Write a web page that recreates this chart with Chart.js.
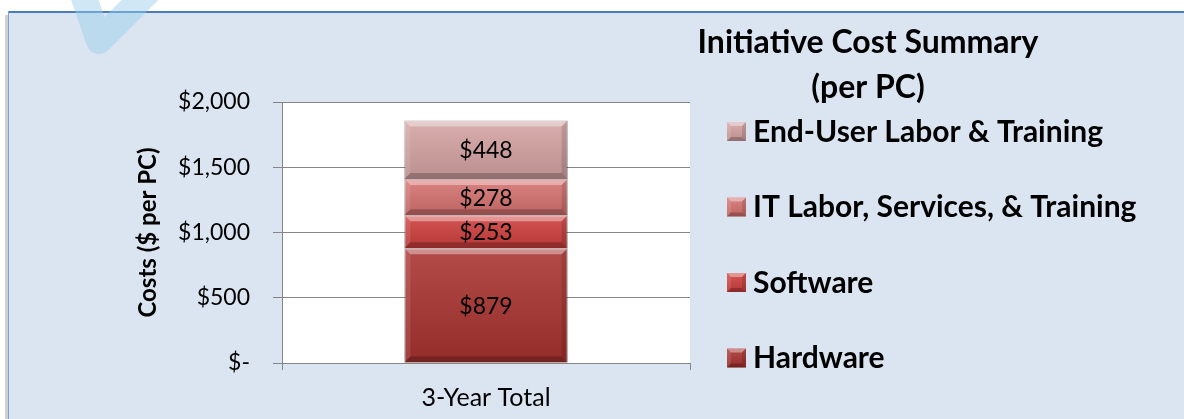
<!DOCTYPE html>
<html>
<head>
<meta charset="utf-8">
<title>Initiative Cost Summary</title>
<script src="https://cdn.jsdelivr.net/npm/chart.js@4.4.1/dist/chart.umd.min.js"></script>
<style>
  html, body { margin: 0; padding: 0; background: #fff; }
  canvas { display: block; }
</style>
</head>
<body>
<canvas id="costChart" width="1184" height="419"></canvas>
<script>
// data
const categories = ['3-Year Total'];
const seriesNames = ['Hardware', 'Software', 'IT Labor, Services, & Training', 'End-User Labor & Training'];
const hardware = [879];
const software = [253];
const itLabor = [278];
const endUser = [448];
const yTicks = [0, 500, 1000, 1500, 2000];
const seriesColors = ['#a93330', '#cf3f3d', '#d67270', '#d4a3a2'];
const titleLines = ['Initiative Cost Summary', '(per PC)'];

const FONT = 'Lato, "Open Sans", sans-serif';

function money(v) {
  if (v === 0) return '$-';
  return '$' + v.toLocaleString('en-US');
}

// light blue box with the blue frame line, white plot area
const framePlugin = {
  id: 'frame',
  beforeDraw(chart) {
    const { ctx, width, height, chartArea: a } = chart;
    ctx.save();
    ctx.fillStyle = '#ffffff';
    ctx.fillRect(0, 0, width, height);
    ctx.fillStyle = '#d0d0d0';
    ctx.fillRect(5, 15, 3, height);
    ctx.fillStyle = '#dbe5f1';
    ctx.fillRect(8, 12, width - 8, height - 12);
    ctx.fillStyle = '#4a7ebb';
    ctx.fillRect(8, 11, width - 8, 2);
    ctx.fillStyle = '#7ea3d3';
    ctx.fillRect(8, 11, 1, height);
    ctx.fillStyle = '#ffffff';
    ctx.fillRect(a.left, a.top, a.right - a.left, a.bottom - a.top);
    ctx.restore();
  },
  afterDraw(chart) {
    // the faint check mark at the top left
    const ctx = chart.ctx;
    ctx.save();
    ctx.strokeStyle = 'rgba(150,205,235,0.45)';
    ctx.lineWidth = 26;
    ctx.lineJoin = 'round';
    ctx.beginPath();
    ctx.moveTo(78, -20);
    ctx.lineTo(99, 41);
    ctx.lineTo(160, -20);
    ctx.stroke();
    ctx.restore();
  }
};

function bevel(ctx, l, t, r, b, s) {
  const h = b - t;
  const g = ctx.createLinearGradient(0, t, 0, b);
  g.addColorStop(0, 'rgba(255,255,255,0.12)');
  g.addColorStop(1, 'rgba(0,0,0,0.12)');
  ctx.fillStyle = g;
  ctx.fillRect(l, t, r - l, h);
  const poly = (pts, c) => {
    ctx.fillStyle = c;
    ctx.beginPath();
    ctx.moveTo(pts[0][0], pts[0][1]);
    for (let i = 1; i < pts.length; i++) ctx.lineTo(pts[i][0], pts[i][1]);
    ctx.closePath();
    ctx.fill();
  };
  poly([[l, t], [r, t], [r - s, t + s], [l + s, t + s]], 'rgba(255,255,255,0.38)');
  poly([[l, t], [l + s, t + s], [l + s, b - s], [l, b]], 'rgba(255,255,255,0.10)');
  poly([[r, t], [r - s, t + s], [r - s, b - s], [r, b]], 'rgba(0,0,0,0.12)');
  poly([[l, b], [l + s, b - s], [r - s, b - s], [r, b]], 'rgba(0,0,0,0.22)');
}

// bevel on each segment + the value inside it
const segmentPlugin = {
  id: 'segments',
  afterDatasetsDraw(chart) {
    const ctx = chart.ctx;
    ctx.save();
    chart.getSortedVisibleDatasetMetas().forEach(meta => {
      meta.data.forEach((el, i) => {
        const p = el.getProps(['x', 'y', 'base', 'width'], true);
        const l = p.x - p.width / 2, r = p.x + p.width / 2;
        const t = Math.min(p.y, p.base), b = Math.max(p.y, p.base);
        bevel(ctx, l, t, r, b, 6);
        const v = chart.data.datasets[meta.index].data[i];
        ctx.fillStyle = '#000';
        ctx.font = '23px ' + FONT;
        ctx.textAlign = 'center';
        ctx.textBaseline = 'middle';
        ctx.fillText(money(v), p.x, (t + b) / 2 + 1);
      });
    });
    ctx.restore();
  }
};

// title and legend on the right side
const sideLegendPlugin = {
  id: 'sideLegend',
  afterDraw(chart) {
    const ctx = chart.ctx;
    ctx.save();
    ctx.fillStyle = '#000';
    ctx.textAlign = 'center';
    ctx.textBaseline = 'middle';
    ctx.font = 'bold 32px ' + FONT;
    titleLines.forEach((line, i) => ctx.fillText(line, 868, 43 + i * 45));

    const ds = chart.data.datasets.slice().reverse();
    ctx.font = 'bold 30px ' + FONT;
    ctx.textAlign = 'left';
    ds.forEach((d, i) => {
      const cy = 131 + i * 75.5;
      ctx.fillStyle = d.backgroundColor;
      ctx.fillRect(727, cy - 9, 19, 19);
      bevel(ctx, 727, cy - 9, 746, cy + 10, 4);
      ctx.fillStyle = '#000';
      ctx.fillText(d.label, 753, cy + 1);
    });
    ctx.restore();
  }
};

const seriesData = [hardware, software, itLabor, endUser];

new Chart(document.getElementById('costChart'), {
  type: 'bar',
  data: {
    labels: categories,
    datasets: seriesNames.map((name, i) => ({
      label: name,
      data: seriesData[i],
      backgroundColor: seriesColors[i],
      borderColor: 'rgba(90,20,20,0.6)',
      borderWidth: 1,
      categoryPercentage: 1,
      barPercentage: 0.4
    }))
  },
  options: {
    responsive: false,
    animation: false,
    devicePixelRatio: 1,
    layout: { padding: { left: 134, right: 494, top: 102, bottom: 0 } },
    plugins: {
      legend: { display: false },
      title: { display: false },
      tooltip: { enabled: false }
    },
    scales: {
      x: {
        stacked: true,
        afterFit: s => { s.height = 56; },
        grid: { drawOnChartArea: false, tickLength: 7, color: '#868686', offset: true },
        border: { color: '#868686', width: 1 },
        ticks: { color: '#000', padding: 13, font: { family: FONT, size: 25 } }
      },
      y: {
        stacked: true,
        min: 0,
        max: 2000,
        afterFit: s => { s.width = 148; },
        afterBuildTicks: s => { s.ticks = yTicks.map(v => ({ value: v })); },
        grid: { color: '#868686', tickLength: 9 },
        border: { color: '#868686', width: 1 },
        ticks: {
          color: '#000',
          padding: 23,
          font: { family: FONT, size: 23 },
          callback: v => money(v)
        },
        title: {
          display: true,
          text: 'Costs ($ per PC)',
          color: '#000',
          padding: 0,
          font: { family: FONT, size: 24, weight: 'bold' }
        }
      }
    }
  },
  plugins: [framePlugin, segmentPlugin, sideLegendPlugin]
});
</script>
</body>
</html>
